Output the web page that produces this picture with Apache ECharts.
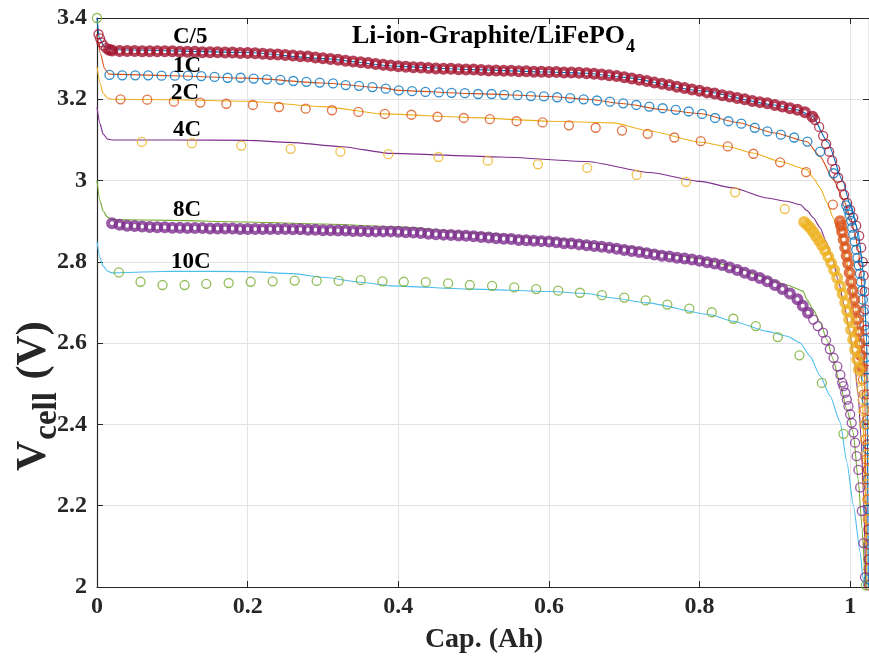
<!DOCTYPE html>
<html>
<head>
<meta charset="utf-8">
<title>Li-ion-Graphite/LiFePO4</title>
<script src="https://cdn.jsdelivr.net/npm/echarts@6.0.0/dist/echarts.min.js"></script>
<style>
html,body{margin:0;padding:0;background:#ffffff;}
#chart{width:869px;height:662px;}
</style>
</head>
<body>
<div id="chart"></div>
<script>
// ---------------- data ----------------
const xTickValues = [0, 0.2, 0.4, 0.6, 0.8, 1];
const xTickLabels = ['0', '0.2', '0.4', '0.6', '0.8', '1'];
const yTickValues = [2, 2.2, 2.4, 2.6, 2.8, 3, 3.2, 3.4];
const yTickLabels = ['2', '2.2', '2.4', '2.6', '2.8', '3', '3.2', '3.4'];
const rateNames = ['C/5', '1C', '2C', '4C', '8C', '10C'];
const chartTitle = 'Li-ion-Graphite/LiFePO';
const chartTitleSub = '4';
const xAxisTitle = 'Cap. (Ah)';
const yAxisTitleMain = 'V';
const yAxisTitleSub = 'cell';
const yAxisTitleUnit = ' (V)';

// C/5 measured (dense markers)
const expC5X = [0.002,0.004,0.006,0.009,0.012,0.016,
 0.02,0.03,0.04,0.05,0.06,0.07,0.08,0.09,0.10,0.11,
 0.12,0.13,0.14,0.15,0.16,0.17,0.18,0.19,0.20,0.21,
 0.22,0.23,0.24,0.25,0.26,0.27,0.28,0.29,0.30,0.31,
 0.32,0.33,0.34,0.35,0.36,0.37,0.38,0.39,0.40,0.41,
 0.42,0.43,0.44,0.45,0.46,0.47,0.48,0.49,0.50,0.51,
 0.52,0.53,0.54,0.55,0.56,0.57,0.58,0.59,0.60,0.61,
 0.62,0.63,0.64,0.65,0.66,0.67,0.68,0.69,0.70,0.71,
 0.72,0.73,0.74,0.75,0.76,0.77,0.78,0.79,0.80,0.81,
 0.82,0.83,0.84,0.85,0.86,0.87,0.88,0.89,0.90,0.91,
 0.92,0.93,0.94,0.95,
 0.9535,0.9588,0.9641,0.9681,0.9721,0.9761,0.9801,0.9841,0.9880,0.9920,
 0.9960,1.0000,1.0040,1.0080,1.0120,1.0146,1.0166,1.0179,1.0193,1.0199,
 1.0206,1.0213,1.0217,1.0221,1.0226,1.0230,1.0234,1.0239,1.0242,1.0245,1.0247];
const expC5Y = [3.360,3.350,3.340,3.332,3.326,3.322,
 3.320,3.319,3.319,3.319,3.318,3.318,3.318,3.318,3.318,3.317,
 3.317,3.317,3.316,3.316,3.316,3.315,3.315,3.314,3.314,3.313,
 3.312,3.311,3.310,3.309,3.308,3.306,3.305,3.303,3.301,3.299,
 3.297,3.295,3.293,3.291,3.289,3.287,3.285,3.283,3.281,3.280,
 3.279,3.278,3.277,3.276,3.275,3.275,3.274,3.273,3.273,3.272,
 3.271,3.271,3.270,3.270,3.269,3.269,3.268,3.268,3.267,3.267,
 3.266,3.266,3.265,3.264,3.263,3.261,3.259,3.257,3.254,3.251,
 3.248,3.245,3.241,3.238,3.235,3.231,3.228,3.224,3.221,3.217,
 3.214,3.210,3.207,3.203,3.200,3.196,3.193,3.190,3.186,3.182,
 3.178,3.174,3.168,3.157,
 3.149,3.132,3.110,3.090,3.071,3.049,3.029,3.007,2.987,2.965,
 2.945,2.928,2.909,2.889,2.864,2.835,2.800,2.766,2.727,2.683,
 2.633,2.584,2.535,2.474,2.412,2.351,2.289,2.216,2.142,2.068,2.004];

// 1C measured
const exp1CX = [0.0166,0.0335,0.0508,0.0680,0.0857,0.1034,0.1207,0.1385,0.1561,0.1734,
 0.1907,0.2080,0.2256,0.2435,0.2607,0.2780,0.2957,0.3134,0.3302,0.3479,
 0.3657,0.3834,0.4007,0.4183,0.4361,0.4538,0.4707,0.4884,0.5060,0.5239,
 0.5406,0.5584,0.5761,0.5934,0.6110,0.6283,0.6461,0.6638,0.6811,0.6987,
 0.7160,0.7333,0.7511,0.7684,0.7856,0.8033,0.8206,0.8383,0.8555,0.8733,
 0.8901,0.9079,0.9256,0.9432,0.9601,0.9778,0.9947,
 0.9973,0.9993,1.0013,1.0027,1.0040,1.0060,1.0080,1.0097,1.0113,1.0129,
 1.0143,1.0157,1.0169,1.0179,1.0189,1.0197,1.0205,1.0213,1.0219,1.0226,
 1.0231,1.0236,1.0241,1.0245,1.0247];
const exp1CY = [3.260,3.259,3.259,3.259,3.258,3.258,3.258,3.257,3.255,3.253,
 3.253,3.251,3.249,3.248,3.245,3.243,3.241,3.239,3.235,3.233,
 3.230,3.226,3.222,3.220,3.218,3.217,3.216,3.215,3.213,3.213,
 3.211,3.210,3.208,3.207,3.205,3.203,3.200,3.197,3.194,3.190,
 3.186,3.182,3.178,3.174,3.170,3.164,3.154,3.146,3.140,3.130,
 3.121,3.113,3.106,3.096,3.071,3.018,2.939,
 2.928,2.916,2.901,2.884,2.867,2.850,2.830,2.810,2.791,2.771,
 2.751,2.729,2.707,2.678,2.643,2.609,2.565,2.515,2.461,2.400,
 2.339,2.265,2.191,2.105,2.019];

// 2C measured
const exp2CX = [0.0312,0.0667,0.1021,0.1371,0.1717,0.2070,0.2416,0.2771,0.3120,0.3471,
 0.3821,0.4175,0.4521,0.4870,0.5216,0.5571,0.5916,0.6266,0.6621,0.6970,
 0.7312,0.7665,0.8016,0.8375,0.8715,0.9070,0.9415,0.9770,0.9867,
 0.9880,0.9894,0.9914,0.9934,0.9953,0.9973,0.9993,1.0013,1.0033,1.0053,
 1.0073,1.0093,1.0110,1.0126,1.0142,1.0157,1.0170,1.0181,1.0190,1.0199,
 1.0207,1.0215,1.0222,1.0229,1.0234,1.0239,1.0243];
const exp2CY = [3.200,3.199,3.194,3.192,3.189,3.186,3.181,3.177,3.173,3.169,
 3.164,3.162,3.157,3.154,3.151,3.146,3.143,3.136,3.130,3.123,
 3.115,3.106,3.097,3.084,3.066,3.045,3.021,2.941,2.900,
 2.889,2.874,2.855,2.835,2.815,2.796,2.773,2.751,2.729,2.707,
 2.683,2.658,2.628,2.599,2.570,2.540,2.511,2.474,2.437,2.400,
 2.363,2.314,2.265,2.216,2.167,2.105,2.044];

// 4C measured
const exp4CX = [0.0595,0.1260,0.1916,0.2571,0.3232,0.3867,0.4534,0.5189,0.5854,0.6509,
 0.7165,0.7821,0.8472,0.9132,
 0.9389,0.9429,0.9468,0.9508,0.9548,0.9588,0.9628,0.9668,0.9708,0.9748,
 0.9787,0.9827,0.9867,0.9900,0.9934,0.9960,0.9987,1.0013,1.0040,1.0066,
 1.0093,1.0116,1.0136,1.0153,1.0167,1.0179,1.0190,1.0199,1.0209,1.0217,
 1.0225,1.0231,1.0238,1.0243];
const exp4CY = [3.095,3.092,3.086,3.078,3.071,3.065,3.058,3.049,3.040,3.031,
 3.014,2.997,2.971,2.930,
 2.898,2.891,2.884,2.874,2.863,2.852,2.841,2.828,2.813,2.797,
 2.780,2.761,2.740,2.721,2.700,2.679,2.658,2.633,2.609,2.584,
 2.560,2.535,2.511,2.486,2.461,2.432,2.400,2.363,2.326,2.289,
 2.253,2.216,2.167,2.117];

// 8C measured (dense markers)
const exp8CX = [0.02,0.03,0.04,0.05,0.06,0.07,0.08,0.09,0.10,0.11,
 0.12,0.13,0.14,0.15,0.16,0.17,0.18,0.19,0.20,0.21,
 0.22,0.23,0.24,0.25,0.26,0.27,0.28,0.29,0.30,0.31,
 0.32,0.33,0.34,0.35,0.36,0.37,0.38,0.39,0.40,0.41,
 0.42,0.43,0.44,0.45,0.46,0.47,0.48,0.49,0.50,0.51,
 0.52,0.53,0.54,0.55,0.56,0.57,0.58,0.59,0.60,0.61,
 0.62,0.63,0.64,0.65,0.66,0.67,0.68,0.69,0.70,0.71,
 0.72,0.73,0.74,0.75,0.76,0.77,0.78,0.79,0.80,0.81,
 0.82,0.83,0.84,0.85,0.86,0.87,0.88,0.89,0.90,0.91,
 0.92,0.93,
 0.937,0.944,0.951,0.957,0.964,0.968,0.973,0.978,0.983,0.987,0.9894,
 0.9911,0.9934,0.9956,0.9977,1.0000,1.0020,1.0044,1.0066,1.0086,1.0110,
 1.0133,1.0155,1.0177,1.0197];
const exp8CY = [2.895,2.891,2.889,2.888,2.887,2.886,2.885,2.885,2.884,2.884,
 2.883,2.883,2.883,2.882,2.882,2.882,2.882,2.881,2.881,2.881,
 2.881,2.881,2.881,2.881,2.880,2.880,2.879,2.879,2.878,2.878,
 2.877,2.877,2.876,2.876,2.875,2.875,2.875,2.875,2.874,2.873,
 2.872,2.871,2.869,2.868,2.867,2.866,2.865,2.864,2.863,2.861,
 2.860,2.858,2.857,2.856,2.854,2.853,2.852,2.851,2.850,2.848,
 2.846,2.845,2.843,2.841,2.839,2.837,2.835,2.832,2.829,2.827,
 2.824,2.821,2.818,2.815,2.813,2.810,2.808,2.806,2.803,2.799,
 2.796,2.792,2.786,2.780,2.773,2.767,2.760,2.752,2.743,2.733,
 2.722,2.708,
 2.692,2.675,2.658,2.642,2.626,2.607,2.585,2.564,2.543,2.522,2.503,
 2.494,2.478,2.461,2.445,2.425,2.404,2.380,2.355,2.322,2.288,
 2.245,2.187,2.108,2.024];

// 10C measured
const exp10CX = [0.0000,0.0290,0.0578,0.0870,0.1163,0.1451,0.1748,0.2040,0.2332,0.2625,0.2917,
 0.3209,0.3502,0.3790,0.4073,0.4365,0.4662,0.4950,0.5246,0.5539,0.5831,
 0.6124,0.6412,0.6704,0.7001,0.7285,0.7572,0.7865,0.8162,0.8449,0.8747,
 0.9039,0.9326,0.9624,0.9911,1.0209];
const exp10CY = [3.400,2.774,2.751,2.743,2.743,2.746,2.748,2.751,2.752,2.754,2.753,
 2.753,2.755,2.752,2.751,2.750,2.747,2.743,2.741,2.737,2.733,
 2.729,2.724,2.718,2.712,2.705,2.695,2.685,2.676,2.660,2.642,
 2.615,2.570,2.502,2.377,2.004];

// model curves
const modC5X = [0,0.003,0.01,0.02,0.2,0.3,0.4,0.5,0.6,0.65,0.7,0.8,0.9,0.93,0.95,0.97,0.99,1.0,1.01,1.018,1.022,1.024];
const modC5Y = [3.40,3.35,3.33,3.322,3.315,3.300,3.281,3.273,3.267,3.264,3.254,3.221,3.186,3.174,3.158,3.095,3.000,2.940,2.880,2.770,2.600,2.000];

const mod1CX = [0,0.005,0.01,0.016,0.1,0.2,0.3,0.38,0.4,0.5,0.6,0.65,0.7,0.75,0.8,0.85,0.9,0.9425,0.9601,0.9778,0.9911,1.0,1.0066,1.0106,1.014,1.0166,1.0186,1.0199,1.021,1.0217];
const mod1CY = [3.36,3.31,3.275,3.262,3.258,3.252,3.240,3.228,3.222,3.214,3.207,3.200,3.189,3.175,3.165,3.143,3.117,3.096,3.059,3.002,2.953,2.912,2.867,2.830,2.781,2.707,2.584,2.412,2.216,2.000];

const mod2CX = [0,0.004,0.008,0.014,0.02,0.1,0.2,0.3,0.38,0.5,0.6,0.685,0.734,0.8,0.837,0.871,0.907,0.9425,0.9508,0.9601,0.9694,0.9774,0.9854,0.9934,1.0,1.0066,1.012,1.0159,1.0186,1.0206,1.0219];
const mod2CY = [3.28,3.24,3.215,3.203,3.200,3.199,3.195,3.182,3.164,3.155,3.146,3.142,3.122,3.095,3.084,3.068,3.047,3.027,3.007,2.982,2.945,2.909,2.867,2.818,2.761,2.695,2.609,2.486,2.339,2.167,2.002];

const mod4CX = [0,0.004,0.008,0.014,0.02,0.1,0.2,0.256,0.322,0.389,0.535,0.650,0.734,0.8007,0.8445,0.8897,0.9163,0.9336,0.9429,0.9508,0.9601,0.9681,0.976,0.984,0.992,0.9987,1.0053,1.0106,1.0146,1.0179,1.0206];
const mod4CY = [3.18,3.14,3.115,3.102,3.100,3.100,3.099,3.094,3.084,3.067,3.058,3.047,3.020,2.998,2.982,2.957,2.949,2.941,2.926,2.909,2.884,2.850,2.810,2.756,2.695,2.633,2.560,2.474,2.363,2.216,2.002];

const mod8CX = [0,0.004,0.008,0.014,0.02,0.1,0.2,0.3,0.4,0.5,0.6,0.7,0.8,0.85,0.88,0.916,0.9375,0.9425,0.9508,0.9601,0.969,0.9774,0.9867,0.9956,1.004,1.0106,1.0159,1.0199,1.0206];
const mod8CY = [3.00,2.95,2.925,2.91,2.904,2.902,2.898,2.893,2.886,2.872,2.858,2.838,2.808,2.786,2.765,2.743,2.728,2.707,2.683,2.651,2.609,2.560,2.498,2.437,2.380,2.265,2.142,2.019,2.002];

const mod10CX = [0,0.004,0.008,0.014,0.02,0.1,0.2,0.26,0.3,0.35,0.39,0.5,0.6,0.65,0.685,0.73,0.814,0.8445,0.8897,0.9163,0.9336,0.9468,0.9601,0.9734,0.9867,0.9956,1.0044,1.0133,1.0173,1.0179];
const mod10CY = [2.85,2.81,2.79,2.777,2.773,2.777,2.776,2.771,2.762,2.750,2.741,2.733,2.727,2.722,2.711,2.699,2.670,2.654,2.629,2.617,2.601,2.568,2.519,2.470,2.405,2.307,2.199,2.085,2.019,2.002];

// ---------------- rendering ----------------
const FONT = '"Liberation Serif", "Times New Roman", Times, serif';
const AXC = '#262626';
const markerColors = ['#A2142F', '#0072BD', '#D95319', '#EDB120', '#7E2F8E', '#77AC30'];
const lineColors = ['#0072BD', '#D95319', '#EDB120', '#7E2F8E', '#77AC30', '#4DBEEE'];
// x-ranges where the recorded points are packed so tightly that the rings merge into a band (style only)
const packedRanges = [[0.015, 0.952], null, [0.986, 1.016], [0.938, 1.013], [0.015, 0.95], null];

function zip(xs, ys) {
  const n = Math.min(xs.length, ys.length);
  const out = [];
  for (let i = 0; i < n; i++) out.push([xs[i], ys[i]]);
  return out;
}
function tickLabel(values, labels, v) {
  const i = values.findIndex(t => Math.abs(t - v) < 1e-6);
  return i >= 0 ? labels[i] : '';
}
const mctx = document.createElement('canvas').getContext('2d');
function textWidth(str, size) {
  mctx.font = 'bold ' + size + 'px ' + FONT;
  return mctx.measureText(str).width;
}

const expSets = [[expC5X, expC5Y], [exp1CX, exp1CY], [exp2CX, exp2CY], [exp4CX, exp4CY], [exp8CX, exp8CY], [exp10CX, exp10CY]];
const modSets = [[modC5X, modC5Y], [mod1CX, mod1CY], [mod2CX, mod2CY], [mod4CX, mod4CY], [mod8CX, mod8CY], [mod10CX, mod10CY]];

const series = [];
modSets.forEach((s, i) => {
  series.push({
    name: rateNames[i] + ' model', type: 'line', data: zip(s[0], s[1]),
    showSymbol: false, symbol: 'none', smooth: 0.2, smoothMonotone: 'x',
    lineStyle: { color: lineColors[i], width: 1.1 }, z: 2, silent: true
  });
});
expSets.forEach((s, i) => {
  const pts = zip(s[0], s[1]);
  const r = packedRanges[i];
  const packed = r ? pts.filter(p => p[0] >= r[0] && p[0] <= r[1]) : [];
  const loose = r ? pts.filter(p => !(p[0] >= r[0] && p[0] <= r[1])) : pts;
  if (packed.length) {
    series.push({
      name: rateNames[i] + ' exp', type: 'scatter', data: packed,
      symbol: 'circle', symbolSize: 8,
      itemStyle: { color: 'rgba(0,0,0,0)', borderColor: markerColors[i], borderWidth: 4 },
      z: 3, silent: true
    });
  }
  series.push({
    name: rateNames[i] + ' exp', type: 'scatter', data: loose,
    symbol: 'circle', symbolSize: 9,
    itemStyle: { color: 'rgba(0,0,0,0)', borderColor: markerColors[i], borderWidth: 1.3 },
    z: 3, silent: true
  });
});

const XMAX = 1.025;
const tickStyle = { show: true, inside: true, length: 6, lineStyle: { color: AXC, width: 1 } };
const lineStyleAx = { show: true, onZero: false, lineStyle: { color: AXC, width: 1.2 } };

const titleSize = 26, titleSubSize = 18;
const labelSize = 23;
const tW = textWidth(chartTitle, titleSize);
const ySize = 42, ySubSize = 33;
const wV = textWidth(yAxisTitleMain, ySize);
const wCell = textWidth(yAxisTitleSub, ySubSize);

const labelPos = [[173, 37], [173, 66], [171, 93], [173, 130], [173, 210], [171, 262]];

const graphic = [
  { type: 'text', x: 352, y: 36, z: 100, silent: true,
    style: { text: chartTitle, font: 'bold ' + titleSize + 'px ' + FONT, fill: '#000', align: 'left', verticalAlign: 'middle' } },
  { type: 'text', x: 352 + tW + 1, y: 47, z: 100, silent: true,
    style: { text: chartTitleSub, font: 'bold ' + titleSubSize + 'px ' + FONT, fill: '#000', align: 'left', verticalAlign: 'middle' } },
  { type: 'text', x: 484, y: 640, z: 100, silent: true,
    style: { text: xAxisTitle, font: 'bold 28px ' + FONT, fill: AXC, align: 'center', verticalAlign: 'middle' } },
  { type: 'group', x: 34, y: 471, rotation: Math.PI / 2, silent: true, children: [
    { type: 'text', x: 0, y: 0, style: { text: yAxisTitleMain, font: 'bold ' + ySize + 'px ' + FONT, fill: AXC, align: 'left', verticalAlign: 'middle' } },
    { type: 'text', x: wV + 1, y: 13, style: { text: yAxisTitleSub, font: 'bold ' + ySubSize + 'px ' + FONT, fill: AXC, align: 'left', verticalAlign: 'middle' } },
    { type: 'text', x: wV + wCell + 3, y: 0, style: { text: yAxisTitleUnit, font: 'bold ' + ySize + 'px ' + FONT, fill: AXC, align: 'left', verticalAlign: 'middle' } }
  ] }
];
rateNames.forEach((n, i) => {
  graphic.push({ type: 'text', x: labelPos[i][0], y: labelPos[i][1], z: 100, silent: true,
    style: { text: n, font: 'bold ' + labelSize + 'px ' + FONT, fill: '#000', align: 'left', verticalAlign: 'middle' } });
});

const chart = echarts.init(document.getElementById('chart'), null, { renderer: 'canvas' });
chart.setOption({
  animation: false,
  backgroundColor: '#ffffff',
  grid: { left: 97, right: 0, top: 18, bottom: 75, containLabel: false },
  xAxis: [
    { type: 'value', position: 'bottom', min: 0, max: XMAX, interval: 0.2,
      axisLine: lineStyleAx, axisTick: tickStyle,
      axisLabel: { show: true, margin: 8, color: AXC, fontFamily: FONT, fontWeight: 'bold', fontSize: 24,
        showMaxLabel: false, formatter: v => tickLabel(xTickValues, xTickLabels, v) },
      splitLine: { show: true, lineStyle: { color: '#e3e3e3', width: 1 } } },
    { type: 'value', position: 'top', min: 0, max: XMAX, interval: 0.2,
      axisLine: lineStyleAx, axisTick: tickStyle, axisLabel: { show: false }, splitLine: { show: false } }
  ],
  yAxis: [
    { type: 'value', position: 'left', min: 2, max: 3.4, interval: 0.2,
      axisLine: lineStyleAx, axisTick: tickStyle,
      axisLabel: { show: true, margin: 10, color: AXC, fontFamily: FONT, fontWeight: 'bold', fontSize: 24,
        formatter: v => tickLabel(yTickValues, yTickLabels, v) },
      splitLine: { show: true, lineStyle: { color: '#e3e3e3', width: 1 } } },
    { type: 'value', position: 'right', min: 2, max: 3.4, interval: 0.2,
      axisLine: lineStyleAx, axisTick: tickStyle, axisLabel: { show: false }, splitLine: { show: false } }
  ],
  series: series,
  graphic: graphic
});
</script>
</body>
</html>
